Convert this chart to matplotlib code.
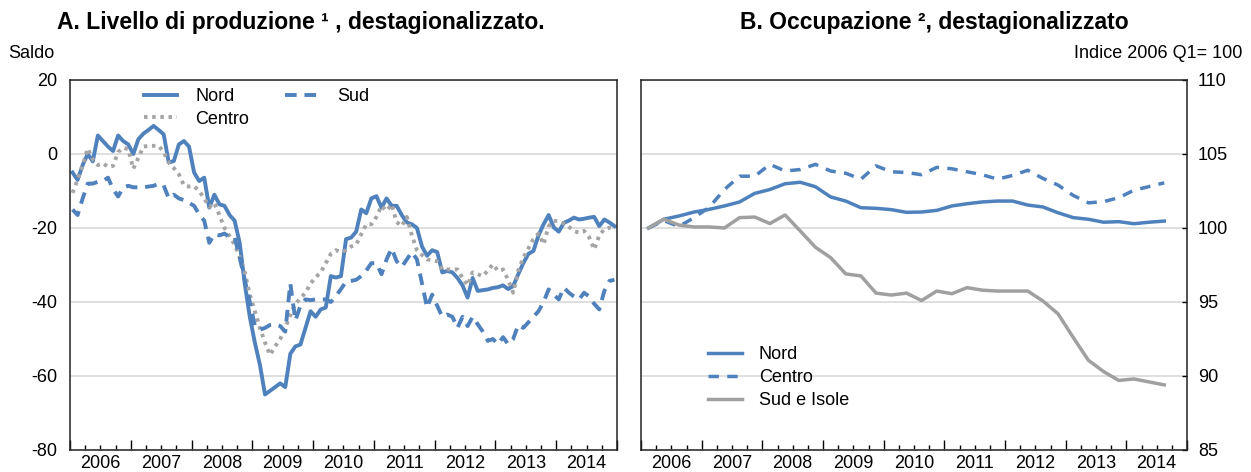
"""
plot.py
Livello di produzione e occupazione per macroarea (Nord, Centro, Sud)
Richiede: matplotlib, numpy
"""
import matplotlib
matplotlib.use('Agg')
import matplotlib.pyplot as plt
from matplotlib.ticker import FixedLocator, FuncFormatter, NullFormatter
import numpy as np

plt.rcParams['font.family'] = ['Liberation Sans', 'DejaVu Sans']
plt.rcParams['axes.unicode_minus'] = False

# ---------------- dati ----------------
years = list(range(2006, 2015))

# Pannello A: saldo mensile, gen 2006 - dic 2014
nord_a = [
    -5, -7, -3, 0, -2, 5, 3.5, 2, 0.8, 5, 3.5, 2.6,
    0, 4, 5.5, 6.5, 7.6, 6.5, 5.3, -2.3, -1.9, 2.6, 3.5, 2,
    -5, -7.3, -6.4, -14.5, -11, -13.6, -14, -16.5, -18, -24, -35, -44,
    -51, -57, -65, -64, -63, -62, -63, -54, -52, -51.5, -47, -42.5,
    -44, -42, -41.5, -33, -33.4, -33, -23, -22.6, -21, -15, -16, -12,
    -11.4, -14.5, -12, -14, -14, -16.5, -18.5, -19, -20, -25, -27.5, -26,
    -26.5, -32, -31.6, -32, -33.5, -35.5, -38.8, -33.5, -37, -36.8, -36.6, -36.2,
    -36, -35.5, -36.5, -35.7, -32.5, -29.5, -27, -26.2, -22, -19, -16.5, -19.8,
    -21, -18.6, -18, -17.2, -17.7, -17.5, -17.2, -17, -19.5, -17.7, -18.5, -19.5,
]
centro_a = [
    -10.5, -7, -3, 1.5, -1.5, -3, -2.5, -3.5, -3.2, 0.5, 1.7, 1.3,
    -4, -1, 2, 2.2, 2.2, 2.2, 0.5, -2.3, -3.8, -5.5, -8.5, -8.8,
    -8.7, -10, -12, -14.3, -13.2, -16.5, -20, -22.2, -24.5, -27.8, -32, -38,
    -42.5, -47, -51, -54.3, -52, -50, -47, -43.5, -40.5, -39, -37.5, -35,
    -33.3, -32, -29.5, -27, -26, -26.5, -26, -25, -24.5, -21.7, -19, -19,
    -17, -14, -15.4, -13.6, -18.4, -19.5, -17, -22, -26, -27.3, -28.5, -28.7,
    -29, -31.2, -31.2, -31.2, -31.2, -33.5, -35.5, -32, -32.5, -33, -31.5, -29.8,
    -31.6, -31.2, -34, -37.5, -31.5, -28, -25.5, -23, -21.5, -24.4, -19.5, -18.1,
    -18.1, -18.8, -19.7, -20.8, -21.3, -20.8, -22.5, -25.8, -22, -20.3, -19.9, -20.3,
]
sud_a = [
    -15, -16.5, -12, -8, -8, -7.5, -7.3, -6.4, -9.5, -11.5, -9, -8.6,
    -9, -9, -9, -8.8, -8.6, -8, -8.5, -12, -11, -12, -12.5, -13.2,
    -14, -16.3, -18, -24, -21.7, -22, -21.5, -22.5, -22.5, -28, -34, -40,
    -46.5, -47.5, -47, -46.2, -46, -46.5, -48, -35, -45, -41, -39.3, -39.5,
    -39.3, -39.3, -39.3, -40, -38.4, -36.5, -34.5, -34.3, -34, -33, -31.5, -29.5,
    -29.5, -32.5, -28.5, -25.5, -29, -30.5, -28.5, -26.5, -28.5, -35, -41.5, -38,
    -41, -44, -43.4, -44, -47, -44, -46.5, -44, -46, -48, -50.5, -50,
    -51.4, -49.5, -51.4, -50, -46.2, -47, -45.5, -44, -42.5, -40, -36.6, -38,
    -39.3, -36.1, -37.5, -38.5, -39.3, -37.5, -38.5, -40.5, -42, -37, -34.3, -34,
]

# Pannello B: indice trimestrale, 2006 Q1 - 2014 Q3
nord_b = [100.0, 100.59, 100.81, 101.08, 101.26, 101.49, 101.76, 102.34, 102.6,
          102.99, 103.09, 102.79, 102.1, 101.82, 101.37, 101.33, 101.24, 101.06,
          101.08, 101.19, 101.49, 101.64, 101.76, 101.82, 101.82, 101.55, 101.42,
          101.03, 100.7, 100.59, 100.39, 100.43, 100.29, 100.39, 100.47]
centro_b = [100.0, 100.5, 100.1, 100.7, 101.4, 102.6, 103.5, 103.5, 104.3,
            103.85, 103.95, 104.3, 103.85, 103.7, 103.3, 104.2, 103.8, 103.75,
            103.6, 104.1, 104.0, 103.8, 103.6, 103.3, 103.55, 103.9, 103.35,
            102.9, 102.2, 101.7, 101.78, 102.05, 102.55, 102.8, 103.05]
sud_b = [100.0, 100.6, 100.2, 100.07, 100.07, 100.0, 100.7, 100.74, 100.3,
         100.88, 99.8, 98.7, 98.0, 96.9, 96.76, 95.6, 95.47, 95.6,
         95.1, 95.74, 95.56, 95.97, 95.8, 95.74, 95.74, 95.74, 95.07,
         94.2, 92.6, 91.06, 90.3, 89.7, 89.8, 89.6, 89.4]

# posizione dei punti: centro del mese / del trimestre
x_month = years[0] + (np.arange(len(nord_a)) + 0.5) / 12
x_quarter = years[0] + (np.arange(len(nord_b)) + 0.5) / 4

BLUE = '#4F81BD'
GREY = '#A5A5A5'
FS = 13


def setup_years(ax):
    """Asse x con anni: tacche grandi ai confini d'anno, piccole ai trimestri."""
    ax.set_xlim(years[0], years[-1] + 1)
    ax.xaxis.set_major_locator(FixedLocator(list(range(years[0], years[-1] + 2))))
    ax.xaxis.set_major_formatter(NullFormatter())
    minor = [y + f for y in years for f in (0.25, 0.5, 0.75)]
    ax.xaxis.set_minor_locator(FixedLocator(minor))
    ax.xaxis.set_minor_formatter(FuncFormatter(
        lambda v, p: str(int(v)) if abs(v % 1 - 0.5) < 0.01 else ''))
    ax.tick_params(axis='x', which='major', direction='in', length=7, width=1)
    ax.tick_params(axis='x', which='minor', direction='in', length=3.5, width=1,
                   pad=3.5, labelsize=FS)
    ax.yaxis.grid(True, color='#D9D9D9', lw=1.2)
    ax.set_axisbelow(True)
    for s in ax.spines.values():
        s.set_linewidth(1.1)
        s.set_color('#222222')


fig = plt.figure(figsize=(12.51, 4.72), dpi=100)
ax_a = fig.add_axes([70 / 1251, 22 / 472, 547 / 1251, 370 / 472])
ax_b = fig.add_axes([641 / 1251, 22 / 472, 546 / 1251, 370 / 472])

# ---------------- pannello A ----------------
h_nord, = ax_a.plot(x_month, nord_a, color=BLUE, lw=2.8, label='Nord')
h_centro, = ax_a.plot(x_month, centro_a, color=GREY, lw=2.8, dashes=(0.9, 1.2),
                      dash_capstyle='butt', label='Centro')
h_sud, = ax_a.plot(x_month, sud_a, color=BLUE, lw=2.8, dashes=(3, 2),
                   dash_capstyle='butt', label='Sud')
setup_years(ax_a)
ax_a.set_ylim(-80, 20)
ax_a.set_yticks(range(-80, 21, 20))
ax_a.tick_params(axis='y', length=0, pad=9, labelsize=FS)
ax_a.legend(handles=[h_nord, h_centro, h_sud], ncol=2, loc='upper left',
            bbox_to_anchor=(0.135, 0.978), frameon=False, fontsize=FS,
            borderaxespad=0, borderpad=0, handlelength=1.85, handletextpad=1.0,
            columnspacing=2.0, labelspacing=0.3)

# ---------------- pannello B ----------------
ax_b.plot(x_quarter, nord_b, color=BLUE, lw=2.5, label='Nord')
ax_b.plot(x_quarter, centro_b, color=BLUE, lw=2.5, dashes=(3, 2.4),
          dash_capstyle='butt', label='Centro')
ax_b.plot(x_quarter, sud_b, color='#A0A0A0', lw=2.5, label='Sud e Isole')
setup_years(ax_b)
ax_b.set_ylim(85, 110)
ax_b.set_yticks(range(85, 111, 5))
ax_b.yaxis.tick_right()
ax_b.tick_params(axis='y', direction='in', length=3.5, width=1, pad=8, labelsize=FS)
ax_b.legend(loc='upper left', bbox_to_anchor=(0.123, 0.281), frameon=False,
            fontsize=FS, borderaxespad=0, borderpad=0, handlelength=1.9,
            handletextpad=0.9, labelspacing=0.33)

# ---------------- titoli e unita ----------------
fig.text(57 / 1251, 1 - 22 / 472, 'A. Livello di produzione ¹ , destagionalizzato.',
         fontsize=16.5, fontweight='bold', ha='left', va='center')
fig.text(740 / 1251, 1 - 22 / 472, 'B. Occupazione ², destagionalizzato',
         fontsize=16.5, fontweight='bold', ha='left', va='center')
fig.text(8 / 1251, 1 - 54 / 472, 'Saldo', fontsize=FS, ha='left', va='center')
fig.text(1242 / 1251, 1 - 54 / 472, 'Indice 2006 Q1= 100', fontsize=FS,
         ha='right', va='center')

fig.savefig('out.png', dpi=100)
plt.close(fig)
